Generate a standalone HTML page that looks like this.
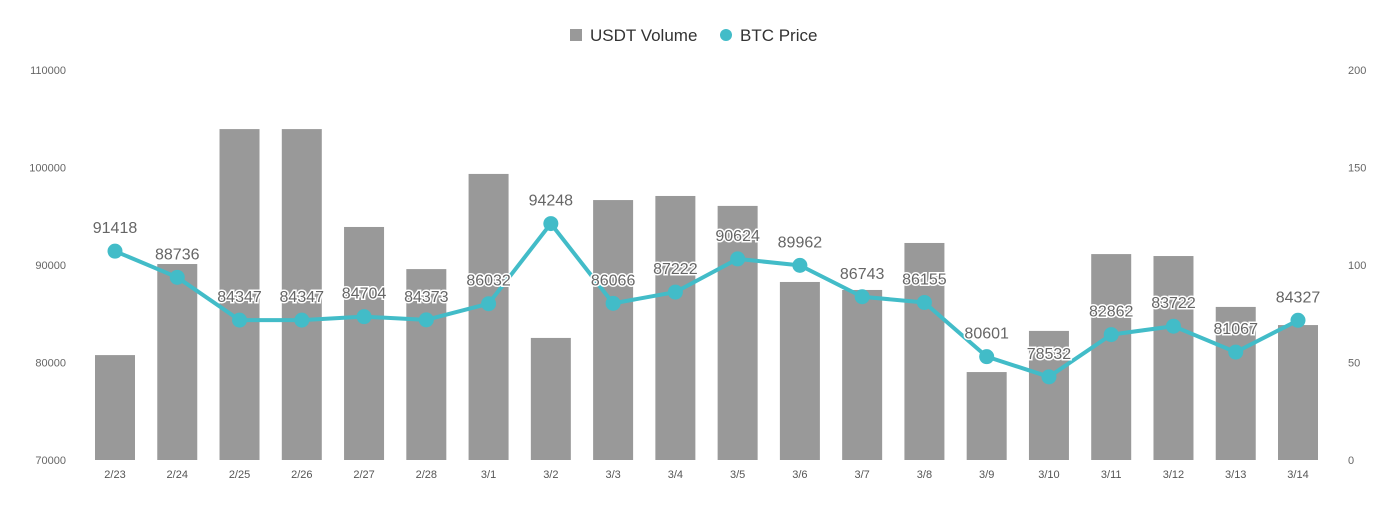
<!DOCTYPE html>
<html><head><meta charset="utf-8"><style>
body{margin:0;background:#fff;font-family:"Liberation Sans",sans-serif;}
svg text{font-family:"Liberation Sans",sans-serif;}
</style></head><body>
<svg id="c" width="1393" height="506">
<g>
<rect x="570" y="29" width="12" height="12" fill="#999"/>
<text x="590" y="41" font-size="17" fill="#333">USDT Volume</text>
<circle cx="726" cy="35" r="6" fill="#42bcc8"/>
<text x="740" y="41" font-size="17" fill="#333">BTC Price</text>
</g>
</svg>
<script>
const categories=["2/23","2/24","2/25","2/26","2/27","2/28","3/1","3/2","3/3","3/4","3/5","3/6","3/7","3/8","3/9","3/10","3/11","3/12","3/13","3/14"];
const usdtVolume=[53.8,100.5,169.7,169.7,119.5,97.9,146.7,62.6,133.3,135.4,130.3,91.3,87.2,111.3,45.1,66.2,105.6,104.6,78.5,69.2];
const btcPrice=[91418,88736,84347,84347,84704,84373,86032,94248,86066,87222,90624,89962,86743,86155,80601,78532,82862,83722,81067,84327];
const leftTicks=[70000,80000,90000,100000,110000];
const rightTicks=[0,50,100,150,200];
const svg=document.getElementById('c');
const NS='http://www.w3.org/2000/svg';
const y0=460,y1=70;
const yL=v=>y0-(v-70000)/40000*(y0-y1);
const yR=v=>y0-v/200*(y0-y1);
const xC=i=>115+i*(1298-115)/(categories.length-1);
function mk(t,a){const e=document.createElementNS(NS,t);for(const k in a)e.setAttribute(k,a[k]);svg.appendChild(e);return e;}
leftTicks.forEach(v=>{const t=mk('text',{x:66,y:yL(v)+4,'font-size':11,fill:'#666','text-anchor':'end'});t.textContent=v;

});
rightTicks.forEach(v=>{const t=mk('text',{x:1348,y:yR(v)+4,'font-size':11,fill:'#666'});t.textContent=v;

});
categories.forEach((c,i)=>{const b=mk('rect',{x:xC(i)-20,y:yR(usdtVolume[i]),width:40,height:y0-yR(usdtVolume[i]),fill:'#999'});


const t=mk('text',{x:xC(i),y:478,'font-size':11,fill:'#555','text-anchor':'middle'});t.textContent=c;

});
const pl=mk('polyline',{points:btcPrice.map((v,i)=>xC(i)+','+yL(v)).join(' '),fill:'none',stroke:'#42bcc8','stroke-width':4,'stroke-linejoin':'round'});


btcPrice.forEach((v,i)=>{const p=mk('circle',{cx:xC(i),cy:yL(v),r:7.5,fill:'#42bcc8'});

});
btcPrice.forEach((v,i)=>{const t=mk('text',{x:xC(i),y:yL(v)-18,'font-size':16,fill:'#666','text-anchor':'middle',stroke:'#fff','stroke-width':3,'paint-order':'stroke'});t.textContent=v;

});
</script>
</body></html>
